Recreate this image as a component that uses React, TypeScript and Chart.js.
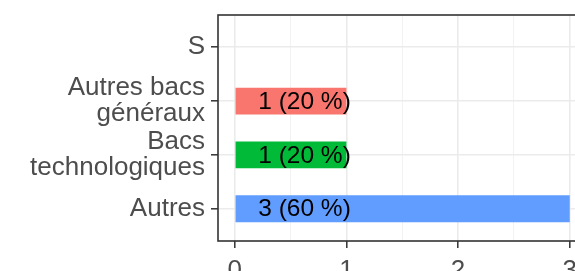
import React, { useEffect, useRef } from "react";
import { Chart, registerables } from "chart.js";

Chart.register(...registerables);

// Categories from bottom (position 1) to top (position 4), as on the y axis
const categories = ["Autres", "Bacs technologiques", "Autres bacs généraux", "S"];
const categoryLabels: string[][] = [["Autres"], ["Bacs", "technologiques"], ["Autres bacs", "généraux"], ["S"]];
const counts = [3, 1, 1, 0];
const percents = [60, 20, 20, 0];
const barColors = ["#619CFF", "#00BA38", "#F8766D", "#999999"];
const xMajorTicks = [0, 1, 2, 3];
const xMinorTicks = [0.5, 1.5, 2.5];
const labelAnchorValue = 0.21;

const CANVAS_W = 600;
const CANVAS_H = 300;
const FONT = "'Liberation Sans', Arial, Helvetica, sans-serif";

export default function App() {
  const ref = useRef<HTMLCanvasElement | null>(null);

  useEffect(() => {
    if (!ref.current) return;
    const points = categories
      .map((c, i) => ({ x: counts[i], y: i + 1, color: barColors[i], count: counts[i], pct: percents[i] }))
      .filter((p) => p.count > 0);

    const panelPlugin = {
      id: "panelExtras",
      afterDatasetsDraw(chart: any) {
        const ctx = chart.ctx;
        const xs = chart.scales.x;
        const meta = chart.getDatasetMeta(0);
        ctx.save();
        ctx.font = `24.5px ${FONT}`;
        ctx.fillStyle = "#000000";
        ctx.textAlign = "left";
        ctx.textBaseline = "middle";
        meta.data.forEach((el: any, i: number) => {
          const p = points[i];
          ctx.fillText(`${p.count} (${p.pct} %)`, xs.getPixelForValue(labelAnchorValue), el.y + 1);
        });
        ctx.restore();
      },
      afterDraw(chart: any) {
        const { left, top, right, bottom } = chart.chartArea;
        const ctx = chart.ctx;
        ctx.save();
        ctx.strokeStyle = "#333333";
        ctx.lineWidth = 1.6;
        ctx.strokeRect(left, top, right - left, bottom - top);
        ctx.restore();
      },
    };

    const chart = new Chart(ref.current, {
      type: "bar",
      data: {
        datasets: [
          {
            data: points.map((p) => ({ x: p.x, y: p.y })),
            backgroundColor: points.map((p) => p.color),
            borderWidth: 0,
            barPercentage: 0.5,
            categoryPercentage: 1,
          } as any,
        ],
      },
      options: {
        indexAxis: "y",
        animation: false,
        responsive: false,
        devicePixelRatio: 1,
        layout: { padding: { top: 15, right: CANVAS_W - 586.5, left: 0, bottom: 0 } },
        plugins: { legend: { display: false }, tooltip: { enabled: false } },
        scales: {
          x: {
            type: "linear",
            offset: false,
            min: -0.15,
            max: 3.15,
            afterBuildTicks: (s: any) => {
              s.ticks = [...xMajorTicks, ...xMinorTicks].sort((a, b) => a - b).map((v) => ({ value: v }));
            },
            afterFit: (s: any) => {
              s.height = CANVAS_H - 241;
              s.paddingLeft = 0;
              s.paddingRight = 0;
            },
            border: { display: false },
            grid: {
              offset: false,
              color: (c: any) => (Number.isInteger(c.tick?.value) ? "#EBEBEB" : "#F0F0F0"),
              lineWidth: (c: any) => (Number.isInteger(c.tick?.value) ? 1.6 : 0.9),
              tickColor: (c: any) => (Number.isInteger(c.tick?.value) ? "#333333" : "rgba(0,0,0,0)"),
              tickLength: 7,
              tickWidth: 1.5,
              drawTicks: true,
            },
            ticks: {
              autoSkip: false,
              maxRotation: 0,
              padding: 7,
              color: "#4D4D4D",
              font: { family: FONT, size: 26 },
              callback: (v: any) => (Number.isInteger(v) ? String(v) : ""),
            },
          },
          y: {
            type: "linear",
            offset: false,
            min: 0.4,
            max: 4.6,
            afterBuildTicks: (s: any) => {
              s.ticks = categories.map((_, i) => ({ value: i + 1 }));
            },
            afterFit: (s: any) => {
              s.width = 218;
              s.paddingTop = 0;
              s.paddingBottom = 0;
            },
            border: { display: false },
            grid: {
              offset: false,
              color: "#EBEBEB",
              lineWidth: 1.6,
              tickColor: "#333333",
              tickLength: 7,
              tickWidth: 1.5,
              drawTicks: true,
            },
            ticks: {
              autoSkip: false,
              padding: 6,
              color: "#4D4D4D",
              font: { family: FONT, size: 26, lineHeight: 1.0 },
              callback: (v: any) => categoryLabels[Math.round(v) - 1] ?? "",
            },
          },
        },
      } as any,
      plugins: [panelPlugin],
    });
    return () => chart.destroy();
  }, []);

  return (
    <div
      style={{
        position: "fixed",
        left: 0,
        top: 0,
        width: 575,
        height: 271,
        overflow: "hidden",
        background: "#FFFFFF",
      }}
    >
      <canvas ref={ref} width={CANVAS_W} height={CANVAS_H} style={{ display: "block" }} />
    </div>
  );
}
